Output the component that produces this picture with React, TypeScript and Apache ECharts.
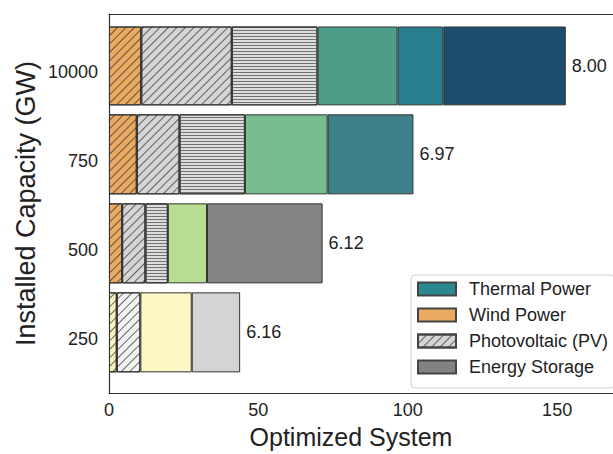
import React, { useEffect, useRef } from 'react';
import * as echarts from 'echarts';

// ---- data ----
const categories = ['250', '500', '750', '10000'];
const layer1 = [2.6, 4.4, 9.3, 10.8];
const layer2 = [7.9, 7.8, 14.3, 30.3];
const layer3 = [null, 7.5, 21.9, 28.7];
const layer4 = [17.2, 13.1, 27.7, 26.8];
const layer5 = [16.2, 38.7, 28.7, 15.3];
const layer6 = [null, null, null, 41.0];
const totalLabels = ['6.16', '6.12', '6.97', '8.00'];
const legendNames = ['Thermal Power', 'Wind Power', 'Photovoltaic (PV)', 'Energy Storage'];
const xMin = 0;
const xMax = 168.7;
const xStep = 50;

// ---- styles ----
const FONT = 'Liberation Sans, Arial, Helvetica, sans-serif';
const diag = {
  symbol: 'rect', symbolSize: 1, dashArrayX: [1, 0], dashArrayY: [1, 5],
  rotation: -Math.PI / 4, color: 'rgba(45,45,45,0.7)',
};
const horiz = {
  symbol: 'rect', symbolSize: 1, dashArrayX: [1, 0], dashArrayY: [1, 2],
  rotation: 0, color: 'rgba(80,80,80,0.75)',
};
// per layer, per row (250, 500, 750, 10000)
const layerColors = [
  ['#F7F2BE', '#EBAA62', '#EBAA62', '#EBAA62'],
  ['#F3F3F3', '#D5D5D5', '#D5D5D5', '#D5D5D5'],
  ['#DCDCDC', '#DCDCDC', '#DCDCDC', '#DCDCDC'],
  ['#FCF8C6', '#B7DE92', '#78BD8E', '#4C9E89'],
  ['#D4D4D4', '#858585', '#3E808A', '#277E8E'],
  ['#1C4C6E', '#1C4C6E', '#1C4C6E', '#1C4C6E'],
];
const layerDecals = [
  [diag, diag, diag, diag],
  [diag, diag, diag, diag],
  [null, horiz, horiz, horiz],
  [null, null, null, null],
  [null, null, null, null],
  [null, null, null, null],
];
const legendColors = ['#2C8890', '#EBAA62', '#D5D5D5', '#828282'];
const legendDecals = [null, null, diag, null];

const layers = [layer1, layer2, layer3, layer4, layer5, layer6];

const frameLine = { show: true, lineStyle: { color: '#333', width: 1.2 } };

export default function App() {
  const ref = useRef<HTMLDivElement>(null);
  useEffect(() => {
    if (!ref.current) return;
    const chart = echarts.init(ref.current, undefined, { renderer: 'svg' });

    const stackSeries = layers.map((vals, li) => ({
      name: 'layer' + (li + 1),
      type: 'bar',
      stack: 'total',
      xAxisIndex: 0,
      yAxisIndex: 0,
      barWidth: 80,
      data: vals.map((v, ri) =>
        v == null
          ? '-'
          : {
              value: v,
              itemStyle: {
                color: layerColors[li][ri],
                borderColor: '#333',
                borderWidth: 1,
                decal: layerDecals[li][ri] || undefined,
              },
            }
      ),
    }));

    const totalSeries = {
      name: 'totals',
      type: 'bar',
      stack: 'total',
      xAxisIndex: 0,
      yAxisIndex: 0,
      barWidth: 80,
      data: categories.map(() => 0),
      itemStyle: { color: 'rgba(0,0,0,0)', borderWidth: 0 },
      label: {
        show: true,
        position: 'right',
        distance: 6,
        fontFamily: FONT,
        fontSize: 18,
        color: '#222',
        formatter: (p: any) => totalLabels[p.dataIndex],
      },
    };

    const legendSeries = legendNames.map((n, i) => ({
      name: n,
      type: 'bar',
      xAxisIndex: 0,
      yAxisIndex: 0,
      data: [],
      itemStyle: {
        color: legendColors[i],
        borderColor: '#444',
        borderWidth: 1,
        decal: legendDecals[i] || undefined,
      },
    }));

    chart.setOption({
      animation: false,
      textStyle: { fontFamily: FONT },
      grid: [
        { left: 109, right: 0, top: 27, bottom: 71 },
        { left: 109, right: 0, top: 14, bottom: 58 },
      ],
      xAxis: [
        { type: 'value', gridIndex: 0, min: xMin, max: xMax, interval: xStep, show: false },
        {
          type: 'value', gridIndex: 1, min: xMin, max: xMax, interval: xStep, position: 'bottom',
          axisLine: frameLine, axisTick: { show: false }, splitLine: { show: false },
          axisLabel: { fontSize: 18, color: '#222', margin: 8, showMaxLabel: false, fontFamily: FONT },
          name: 'Optimized System', nameLocation: 'middle', nameGap: 29,
          nameTextStyle: { fontSize: 25, color: '#222', fontFamily: FONT, padding: [0, 20, 0, 0] },
        },
        {
          type: 'value', gridIndex: 1, min: xMin, max: xMax, interval: xStep, position: 'top',
          axisLine: frameLine, axisTick: { show: false }, splitLine: { show: false },
          axisLabel: { show: false },
        },
      ],
      yAxis: [
        {
          type: 'category', gridIndex: 0, data: categories,
          axisLine: { show: false }, axisTick: { show: false }, splitLine: { show: false },
          axisLabel: { fontSize: 18, color: '#222', margin: 11, fontFamily: FONT },
        },
        {
          type: 'value', gridIndex: 1, min: 0, max: 1, position: 'left',
          axisLine: frameLine, axisTick: { show: false }, splitLine: { show: false },
          axisLabel: { show: false },
          name: 'Installed Capacity (GW)', nameLocation: 'middle', nameGap: 70,
          nameTextStyle: { fontSize: 27, color: '#222', fontFamily: FONT },
        },
      ],
      legend: {
        data: legendNames,
        orient: 'vertical',
        left: 411,
        top: 275,
        padding: [5, 6, 12, 6],
        itemWidth: 38,
        itemHeight: 13,
        itemGap: 8,
        icon: 'rect',
        selectedMode: false,
        backgroundColor: '#fff',
        borderColor: '#cfcfcf',
        borderWidth: 1,
        borderRadius: 4,
        textStyle: { fontSize: 18, color: '#222', fontFamily: FONT, padding: [0, 0, 0, 8] },
      },
      series: [...stackSeries, totalSeries, ...legendSeries],
    });
    return () => chart.dispose();
  }, []);

  return (
    <div
      ref={ref}
      style={{ position: 'absolute', left: 0, top: 0, width: 613, height: 454, background: '#fff' }}
    />
  );
}
